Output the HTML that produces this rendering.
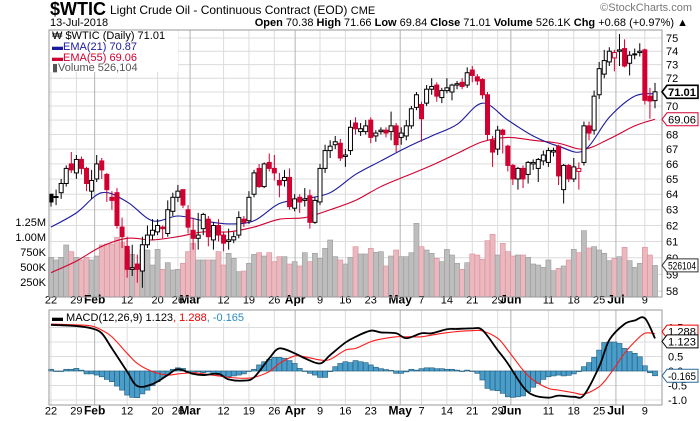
<!DOCTYPE html>
<html><head><meta charset="utf-8"><style>
html,body{margin:0;padding:0;background:#fff;}
svg{display:block;font-family:"Liberation Sans",sans-serif;}
</style></head><body>
<svg id="chart" width="700" height="421" viewBox="0 0 700 421" xmlns="http://www.w3.org/2000/svg">
<rect x="0" y="0" width="700" height="421" fill="#fff"/>
<text x="50" y="15" font-size="18" font-weight="bold" fill="#000">$WTIC</text>
<text x="110" y="14" font-size="12" fill="#000">Light Crude Oil - Continuous Contract (EOD) <tspan font-size="11">CME</tspan></text>
<text x="50" y="26" font-size="11" fill="#000">13-Jul-2018</text>
<text x="688" y="26" font-size="11" text-anchor="end" fill="#000"><tspan font-weight="bold">Open</tspan> 70.38 <tspan font-weight="bold">High</tspan> 71.66 <tspan font-weight="bold">Low</tspan> 69.84 <tspan font-weight="bold">Close</tspan> 71.01 <tspan font-weight="bold">Volume</tspan> 526.1K <tspan font-weight="bold">Chg</tspan> +0.68 (+0.97%) ▲</text>
<text x="692" y="11" font-size="11" text-anchor="end" fill="#777">©StockCharts.com</text>
<g id="grid"></g>
<g id="vol"></g>
<g id="hist"></g>
<g id="lines"></g>
<g id="candles"></g>
<g id="axes"></g>
<rect x="49" y="30" width="613" height="267" fill="none" stroke="#999"/>
<rect x="49" y="310" width="613" height="95" fill="none" stroke="#999"/>
<g>
<rect x="50" y="31" width="128" height="41" fill="#fff"/>
<text x="52" y="39" font-size="11" fill="#000">₩ $WTIC (Daily) 71.01</text>
<text x="52" y="50" font-size="11" fill="#1a1a9e">▬EMA(21) 70.87</text>
<text x="52" y="61" font-size="11" fill="#d10031">▬EMA(55) 69.06</text>
<text x="52" y="71" font-size="11" fill="#555">▮Volume 526,104</text>
</g>
<g>
<rect x="50" y="311" width="222" height="12" fill="#fff"/>
<text x="52" y="321" font-size="11" fill="#000">▬ MACD(12,26,9) 1.123<tspan fill="#e00">, 1.288</tspan><tspan fill="#2a8ac0">, -0.165</tspan></text>
</g>
<g id="tags"></g>
</svg>
<script>
const opens=[64.0,63.8,64.1,64.7,66.0,65.4,66.3,65.7,64.2,65.0,66.2,65.3,63.8,64.1,61.9,60.7,59.3,59.6,59.2,60.8,61.4,61.6,61.9,61.5,62.9,63.8,64.3,63.0,61.7,61.2,61.8,
62.4,61.1,62.0,61.4,61.0,61.1,61.4,62.4,62.3,64.0,65.7,64.5,66.1,65.7,64.9,64.9,65.1,63.1,63.8,63.6,63.9,62.2,63.5,65.7,66.9,67.3,67.4,66.5,66.9,68.8,
68.2,68.2,69.0,67.9,68.2,68.3,68.2,68.6,67.8,67.9,68.6,69.9,70.1,70.2,71.2,71.5,70.6,71.1,71.0,71.5,71.7,71.5,72.6,72.1,71.9,70.8,67.6,67.0,68.3,67.2,65.9,65.0,65.7,65.3,66.0,65.7,66.2,66.1,66.8,67.2,64.3,65.9,65.0,65.5,66.1,68.6,68.3,70.8,72.3,73.2,73.5,74.0,74.2,73.1,73.8,73.9,74.1,70.7,70.38];
const highs=[64.0,64.3,65.0,65.9,66.8,66.6,66.5,65.8,65.6,66.6,66.4,65.4,64.2,64.4,62.5,61.3,60.8,60.2,61.3,62.0,62.4,62.4,62.0,63.6,64.1,64.6,64.3,63.3,62.5,62.8,62.8,
62.6,62.2,62.4,61.6,61.8,61.6,62.9,62.6,64.2,65.6,66.0,66.1,66.7,66.6,65.4,65.6,65.7,64.0,64.0,64.4,64.3,63.8,66.0,67.3,67.6,67.9,67.7,67.0,69.0,69.2,
68.8,69.0,69.2,68.3,68.5,68.5,69.6,68.8,68.5,69.0,70.0,71.0,70.3,71.5,72.0,71.7,71.3,72.0,71.6,71.8,72.0,72.8,72.9,72.3,72.0,71.0,67.9,68.6,68.4,67.3,66.0,65.8,65.9,66.2,66.3,66.4,66.9,67.1,67.1,67.3,66.0,66.0,66.4,66.1,68.9,68.9,71.1,73.2,74.1,74.3,74.1,75.3,74.9,74.0,74.2,74.6,74.2,71.3,71.66];
const lows=[63.2,63.3,63.7,64.5,65.4,65.0,65.3,64.2,63.7,64.8,65.0,63.5,63.0,61.8,60.6,58.8,58.9,58.5,58.2,60.6,61.1,61.4,61.2,61.3,62.6,63.5,63.1,61.5,60.5,60.5,61.4,
60.7,60.5,61.0,60.4,60.5,60.9,61.2,61.9,62.1,63.8,64.4,64.4,65.5,64.9,63.8,64.5,63.0,62.9,62.8,63.2,61.8,62.1,63.3,65.4,66.4,67.0,66.2,65.8,66.6,68.0,
67.9,68.0,67.4,67.5,68.0,67.8,67.6,66.8,67.3,67.6,68.4,69.7,67.5,70.0,70.8,70.3,70.2,70.9,70.4,71.2,71.2,71.3,71.7,71.5,70.5,67.6,65.8,66.6,66.7,65.5,64.6,64.3,64.4,64.7,65.6,64.8,65.9,65.8,66.5,64.6,63.4,64.8,64.8,64.3,65.9,67.6,68.0,70.5,72.0,72.9,72.5,72.9,72.8,72.2,73.4,73.6,70.1,69.1,69.84];
const closes=[63.5,63.85,64.7,65.7,65.6,66.3,65.7,64.7,64.9,66.0,65.6,64.3,63.6,62.0,61.3,59.3,59.4,59.3,60.8,61.4,61.7,62.0,61.8,63.0,63.8,64.2,63.3,61.9,61.2,61.4,62.7,
61.3,62.0,61.4,60.9,61.1,61.3,62.5,62.2,63.8,65.4,64.5,66.0,65.7,65.4,64.6,65.1,63.2,63.7,63.5,63.7,62.2,63.6,65.7,66.9,67.2,67.5,66.4,66.6,68.5,68.4,
68.4,68.6,67.8,68.1,68.3,68.1,68.6,67.3,68.1,68.6,69.8,70.8,69.1,71.2,71.4,70.7,71.1,71.3,71.5,71.6,71.4,72.4,72.2,71.8,70.8,68.0,66.8,68.3,68.0,65.9,65.0,65.7,65.0,66.1,66.1,66.3,66.6,66.9,66.9,65.2,65.9,65.0,65.8,65.7,68.6,68.1,70.7,72.7,73.3,74.0,73.9,74.1,72.9,73.7,73.8,74.0,70.4,70.35,71.01];
const volumesM=[0.661,0.617,0.661,0.867,0.756,0.661,0.617,0.661,0.617,0.683,0.867,0.883,0.883,0.994,0.906,0.783,0.711,0.561,0.794,0.783,0.533,0.794,0.461,0.572,0.45,0.461,0.561,0.756,0.894,0.617,0.617,
0.617,0.617,0.756,0.533,0.728,0.644,0.422,0.433,0.561,0.711,0.739,0.683,0.739,0.589,0.672,0.672,0.55,0.589,0.517,0.739,0.589,0.728,0.644,0.811,0.95,0.672,0.617,0.55,
0.661,0.839,0.717,0.717,0.811,0.745,0.756,0.517,0.683,0.783,0.672,0.672,0.739,1.228,0.839,0.783,0.728,0.644,0.589,0.794,0.7,0.561,0.461,0.572,0.717,0.7,0.628,0.939,1.044,0.7,0.894,0.756,0.683,0.7,0.7,0.661,0.55,0.533,0.494,0.617,0.439,0.478,0.517,0.617,0.794,0.739,1.106,0.817,0.839,0.783,0.728,0.606,0.644,0.672,0.828,0.606,0.494,0.561,0.828,0.7,0.526];
const histVals=[0.06,0,0,0.06,0.06,0.09,0.03,-0.1,-0.1,-0.14,-0.2,-0.29,-0.37,-0.52,-0.66,-0.83,-0.91,-0.92,-0.79,-0.66,-0.51,-0.37,-0.22,-0.14,0.06,0.11,0.09,-0.06,-0.06,-0.03,-0.06,-0.03,-0.1,-0.14,-0.17,-0.2,-0.17,-0.14,-0.1,0,0.06,0.21,0.32,0.4,0.47,0.47,0.44,0.36,0.26,0.09,0,-0.08,-0.14,-0.22,-0.22,-0.02,0.15,0.26,0.32,0.29,
0.36,0.32,0.29,0.21,0.13,0.08,0.05,0.02,-0.08,-0.08,-0.03,0.06,0.03,0.08,0.11,0.11,0.08,0.08,0.06,0.06,0.03,0,0.03,0,-0.08,-0.31,-0.6,-0.66,-0.68,-0.77,-0.89,-0.91,-0.89,-0.86,-0.71,-0.56,-0.43,-0.29,-0.2,-0.17,-0.14,-0.17,-0.15,-0.1,-0.02,0.15,0.29,0.47,0.72,0.98,1.0,1.0,0.95,0.78,0.67,0.61,0.49,0.18,-0.06,-0.165];
const emaIdx=[0,5,10,15,20,25,30,35,40,45,50,55,60,65,70,75,80,85,90,95,100,105,110,115,119];
const ema21=[61.9,62.8,64.1,63.5,62.3,62.6,62.3,62.1,62.3,63.4,63.7,64.1,65.3,66.2,67.1,67.9,68.7,70.2,69.0,67.9,67.2,66.9,69.2,70.7,70.87];
const ema55=[59.1,59.8,60.7,61.2,61.1,61.3,61.6,61.6,61.9,62.4,62.5,63.0,63.6,64.5,65.2,65.9,66.7,67.5,67.8,67.6,67.4,67.0,67.7,68.6,69.06];
const macdIdx=[0,5,8,10,12,15,17,20,23,25,28,30,33,35,38,40,43,45,48,50,53,55,58,60,63,65,68,70,73,75,78,80,83,85,88,90,93,95,98,100,103,105,108,110,113,115,117,119];
const macdVals=[1.59,1.55,1.47,1.3,0.78,-0.02,-0.52,-0.45,-0.14,0.06,-0.1,-0.14,-0.1,-0.29,-0.33,-0.22,0.44,0.78,0.61,0.44,0.26,0.55,0.98,1.18,1.39,1.33,1.3,1.13,1.3,1.3,1.44,1.45,1.47,1.41,0.72,0.26,-0.54,-0.83,-0.92,-0.85,-0.89,-0.83,0.15,1.07,1.62,1.74,1.82,1.123];
const signalVals=[1.62,1.59,1.55,1.41,1.18,0.61,0.26,-0.02,-0.14,-0.1,-0.06,-0.1,-0.17,-0.22,-0.25,-0.22,-0.02,0.26,0.52,0.49,0.38,0.4,0.72,0.78,1.01,1.1,1.18,1.18,1.18,1.24,1.32,1.36,1.39,1.38,1.13,0.72,0.03,-0.31,-0.6,-0.66,-0.75,-0.8,-0.54,-0.14,0.61,1.01,1.3,1.288];
const priceTicks=[58,59,60,61,62,63,64,65,66,67,68,69,70,71,72,73,74,75];
const volTicks=[0.25,0.5,0.75,1.0,1.25];
const volTickLabels=["250K","500K","750K","1.00M","1.25M"];
const macdTicks=[-1.0,-0.5,0.0,0.5,1.0,1.5];
const dateTickIdx=[0,5,8.6,15,21,25,27.4,34,39,44,48.1,53,58,63,68.8,73,78,83,88,90.6,98,103,108,111.3,117];
const dateTickLabels=["22","29","Feb","12","20","26","Mar","12","19","26","Apr","9","16","23","May","7","14","21","29","Jun","11","18","25","Jul","9"];

const NS="http://www.w3.org/2000/svg";
const X0=51,X1=655,N=closes.length;
function xs(i){return X0+(X1-X0)*i/(N-1);}
function py(p){return 38+985*(Math.log(75)-Math.log(p));}
function vy(v){return 297-v*60;}
function my(v){return 371-v*29;}
function mk(parent,tag,attrs){const e=document.createElementNS(NS,tag);for(const k in attrs)e.setAttribute(k,attrs[k]);document.getElementById(parent).appendChild(e);return e;}
function txt(parent,x,y,s,attrs){const e=mk(parent,'text',Object.assign({x:x,y:y,'font-size':11},attrs||{}));e.textContent=s;return e;}

priceTicks.forEach(p=>{const l=mk('grid','line',{x1:49,x2:662,y1:py(p),y2:py(p),stroke:'#dcdcdc'});

});
macdTicks.forEach(v=>{const l=mk('grid','line',{x1:49,x2:662,y1:my(v),y2:my(v),stroke:'#dcdcdc'});

});
dateTickIdx.forEach((t,k)=>{const major=isNaN(+dateTickLabels[k]);const x=xs(t);
const a=mk('grid','line',{x1:x,x2:x,y1:30,y2:297,stroke:major?'#b4b4b4':'#dcdcdc'});


const b=mk('grid','line',{x1:x,x2:x,y1:310,y2:405,stroke:major?'#b4b4b4':'#dcdcdc'});


[303.5,414.5].forEach(yy=>{const t1=txt('axes',x,yy,dateTickLabels[k],{'text-anchor':'middle','font-weight':major?'bold':'normal',fill:'#000','font-size':major?12:11});

});
});

for(let i=0;i<N;i++){const up=i===0||closes[i]>=closes[i-1];const w=(X1-X0)/(N-1);
const r=mk('vol','rect',{x:xs(i)-w/2,y:vy(volumesM[i]),width:w,height:297-vy(volumesM[i]),fill:up?'#bdbdbd':'#eab8be',stroke:up?'#9a9a9a':'#d98d97','stroke-width':0.6});

}

for(let i=0;i<histVals.length;i++){const w=(X1-X0)/(N-1);const y0=my(0),y1=my(histVals[i]);
const r=mk('hist','rect',{x:xs(i)-w/2,y:Math.min(y0,y1),width:w,height:Math.max(0.5,Math.abs(y1-y0)),fill:'#4a9dc9',stroke:'#1f5a7a','stroke-width':0.6});

}

function smooth(pts){let d='M'+pts[0][0]+','+pts[0][1];for(let i=0;i<pts.length-1;i++){const p0=pts[i-1]||pts[i],p1=pts[i],p2=pts[i+1],p3=pts[i+2]||p2;
const c1=[p1[0]+(p2[0]-p0[0])/6,p1[1]+(p2[1]-p0[1])/6],c2=[p2[0]-(p3[0]-p1[0])/6,p2[1]-(p3[1]-p1[1])/6];
d+=' C'+c1[0]+','+c1[1]+' '+c2[0]+','+c2[1]+' '+p2[0]+','+p2[1];}return d;}
function line(idx,vals,fy,color,w,name){const p=mk('lines','path',{d:smooth(idx.map((t,k)=>[xs(t),fy(vals[k])])),fill:'none',stroke:color,'stroke-width':w});

}
line(emaIdx,ema55,py,'#d10031',1.1,'ema55-line');
line(emaIdx,ema21,py,'#1a1a9e',1.1,'ema21-line');
line(macdIdx,signalVals,my,'#ff1a1a',1.1,'macd-signal-line');
line(macdIdx,macdVals,my,'#000',1.8,'macd-line');

for(let i=0;i<N;i++){const x=xs(i);const dn=i>0&&closes[i]<closes[i-1];const col=dn?'#d10031':'#000';
const wk=mk('candles','line',{x1:x,x2:x,y1:py(highs[i]),y2:py(lows[i]),stroke:col,'stroke-width':1});


const top=py(Math.max(opens[i],closes[i])),bot=py(Math.min(opens[i],closes[i]));const filled=closes[i]<opens[i];
const b=mk('candles','rect',{x:x-2,y:top,width:4,height:Math.max(1,bot-top),fill:filled?col:'#fff',stroke:col,'stroke-width':1});

}

priceTicks.forEach(p=>{const t=txt('axes',666,py(p)+4,String(p),{fill:'#000'});

});
volTicks.forEach((v,k)=>{const t=txt('axes',46,vy(v)+4,volTickLabels[k],{'text-anchor':'end',fill:'#000'});

});
macdTicks.forEach(v=>{const t=txt('axes',668,my(v)+4,v.toFixed(1),{fill:'#000'});

});

function tag(y,label,color,bold,name){const g=mk('tags','g',{});


const w=Math.min(31,label.length*(bold?6.6:6.1)+3);
const p=document.createElementNS(NS,'path');p.setAttribute('d','M662,'+y+' l5,-6.5 h'+w+' v13 h-'+w+' z');p.setAttribute('fill','#fff');p.setAttribute('stroke',color);p.setAttribute('stroke-width',bold?1.6:1);g.appendChild(p);
const t=document.createElementNS(NS,'text');t.setAttribute('x',668);t.setAttribute('y',y+4);t.setAttribute('font-size',11);if(bold)t.setAttribute('font-weight','bold');
t.setAttribute('textLength',w-3);t.setAttribute('lengthAdjust','spacingAndGlyphs');t.textContent=label;g.appendChild(t);}
tag(py(71.01),'71.01','#000',true,'last-price-tag');
tag(py(69.06),'69.06','#d10031',false,'ema55-tag');
tag(vy(0.526104),'526104','#333',false,'volume-tag');
tag(my(1.288)-2,'1.288','#e00',false,'signal-tag');
tag(my(1.123)+3,'1.123','#000',false,'macd-tag');
tag(my(-0.165),'-0.165','#2a6a9a',false,'histogram-tag');
</script>
</body></html>
